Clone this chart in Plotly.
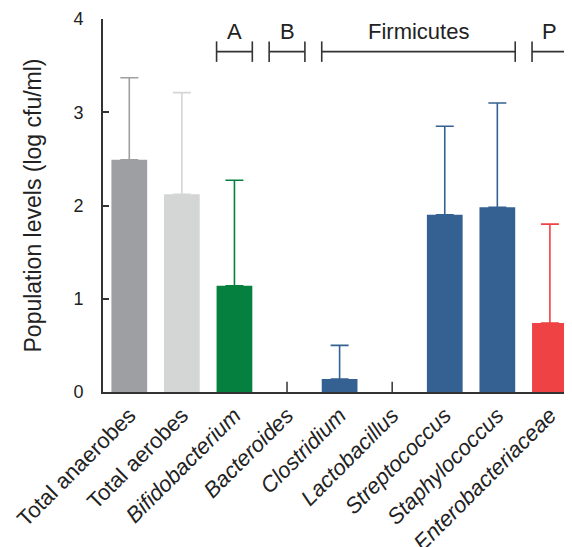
import plotly.graph_objects as go

categories = ["Total anaerobes", "Total aerobes", "Bifidobacterium", "Bacteroides",
              "Clostridium", "Lactobacillus", "Streptococcus", "Staphylococcus",
              "Enterobacteriaceae"]
italic = [False, False, True, True, True, True, True, True, True]
values = [2.49, 2.12, 1.14, 0.0, 0.14, 0.0, 1.90, 1.98, 0.74]
errors = [0.88, 1.09, 1.13, 0.0, 0.36, 0.0, 0.95, 1.12, 1.06]
colors = ["#9e9fa3", "#d4d5d5", "#06803f", "#356192", "#356192", "#356192",
          "#356192", "#356192", "#ef4244"]
groups = [("A", 2, 2), ("B", 3, 3), ("Firmicutes", 4, 7), ("P", 8, 8)]
y_ticks = [0, 1, 2, 3, 4]

FONT = "Liberation Sans, Arial, sans-serif"
AX = "#333333"
HALF = 0.34

fig = go.Figure()
for i, (c, v, e, col) in enumerate(zip(categories, values, errors, colors)):
    if v > 0:
        fig.add_trace(go.Bar(
            x=[i], y=[v], width=2 * HALF, marker=dict(color=col, line=dict(width=0)),
            error_y=dict(type="data", array=[e], arrayminus=[0], symmetric=False,
                         color=col, thickness=1.6, width=9),
            showlegend=False, hoverinfo="skip"))

zero_x = [i for i, v in enumerate(values) if v == 0]
fig.add_trace(go.Scatter(
    x=zero_x, y=[0] * len(zero_x), mode="markers", marker=dict(size=0.1, color=AX),
    error_y=dict(type="data", array=[0.11] * len(zero_x), arrayminus=[0] * len(zero_x),
                 symmetric=False, color=AX, thickness=1.5, width=0),
    showlegend=False, hoverinfo="skip", cliponaxis=False))

for label, a, b in groups:
    x0, x1 = a - HALF, b + HALF
    fig.add_shape(type="line", x0=x0, x1=x1, y0=3.65, y1=3.65,
                  line=dict(color=AX, width=1.6))
    for xe in (x0, x1):
        fig.add_shape(type="line", x0=xe, x1=xe, y0=3.54, y1=3.76,
                      line=dict(color=AX, width=1.6))
    fig.add_annotation(x=(x0 + x1) / 2, y=3.87, text=label, showarrow=False,
                       font=dict(family=FONT, size=22, color="#222222"),
                       xanchor="center", yanchor="middle")

ticktext = [f"<i>{c}</i>" if it else c for c, it in zip(categories, italic)]

# page body has an 8px default margin, so the figure is sized to fit the window
fig.update_layout(
    width=564, height=539,
    margin=dict(l=95, r=0, t=11, b=155),
    plot_bgcolor="white", paper_bgcolor="white",
    barmode="overlay",
    font=dict(family=FONT, color="#222222"),
    xaxis=dict(range=[-0.5, 8.42], tickmode="array", tickvals=list(range(len(categories))),
               ticktext=ticktext, tickangle=-45, ticks="", showline=True, automargin=False,
               linecolor=AX, linewidth=1.6, showgrid=False, zeroline=False,
               tickfont=dict(family=FONT, size=22, color="#222222")),
    yaxis=dict(range=[0, 4], tickmode="array", tickvals=y_ticks, ticks="inside",
               ticklen=6, tickwidth=1.5, tickcolor=AX, showline=True, linecolor=AX,
               linewidth=1.6, showgrid=False, zeroline=False, ticklabelstandoff=14,
               automargin=False,
               tickfont=dict(family=FONT, size=18, color="#222222"),
               title=dict(text="Population levels (log cfu/ml)", standoff=26,
                          font=dict(family=FONT, size=23, color="#222222"))),
)

fig.write_html("out.html")
